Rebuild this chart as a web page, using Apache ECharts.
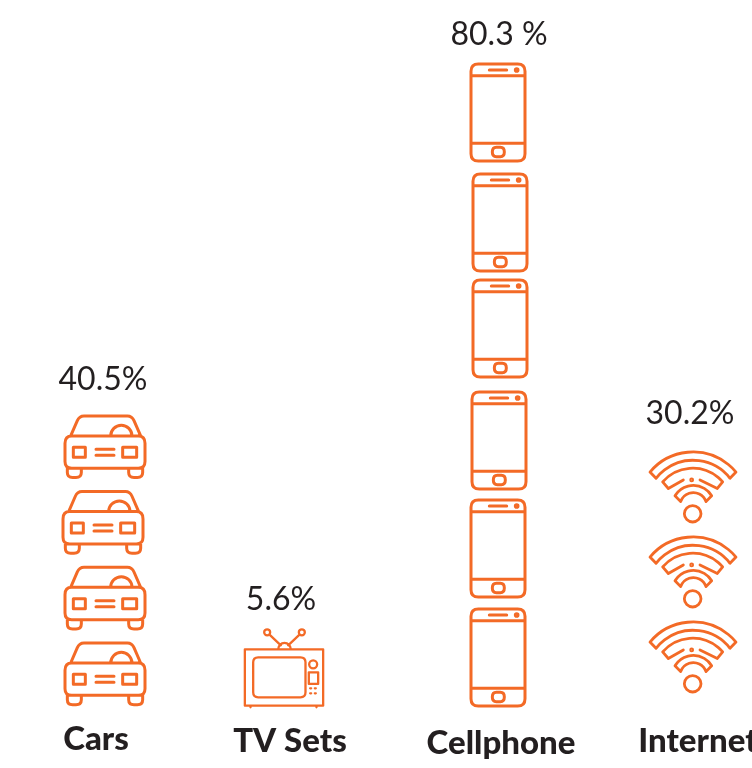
<!DOCTYPE html>
<html>
<head>
<meta charset="utf-8">
<style>
  html, body { margin: 0; padding: 0; background: #fff; overflow: hidden; }
  #chart { width: 752px; height: 768px; }
</style>
<script src="https://cdn.jsdelivr.net/npm/echarts@6/dist/echarts.min.js"></script>
</head>
<body>
<div id="chart"></div>
<script>
const categories = ["Cars", "TV Sets", "Cellphone", "Internet"];
const shares = [40.5, 5.6, 80.3, 30.2];
const shareLabels = ["40.5%", "5.6%", "80.3 %", "30.2%"];
const iconCounts = [4, 1, 6, 3];

const orange = "#f36a26";
const ink = "#231f20";

const carIcon = "M65 108H265Q285 108 285 130V185Q285 205 265 205H65Q45 205 45 185V130Q45 108 65 108Z" +
  "M62 108L82 62Q88 48 102 48H232Q246 48 252 62L272 108" +
  "M182 108A32 32 0 0 1 246 108" +
  "M70 142H106V172H70ZM218 142H260V172H218Z" +
  "M138 148H192M138 166H192" +
  "M52 205V218Q52 233 68 233H78Q94 233 94 218V205" +
  "M236 205V218Q236 233 252 233H262Q278 233 278 218V205";

const tvIcon = "M30 88H265V257H30Z" +
  "M47 257V262M245 257V262" +
  "M70 112H197Q212 112 212 127V217Q212 232 197 232H70Q55 232 55 217V127Q55 112 70 112Z" +
  "M247 133A12 12 0 1 1 223 133A12 12 0 1 1 247 133Z" +
  "M222 157H250V192H222Z" +
  "M226 205H229M240 205H243M226 220H229M240 220H243" +
  "M106 37A9 9 0 1 1 88 37A9 9 0 1 1 106 37Z" +
  "M210 37A9 9 0 1 1 192 37A9 9 0 1 1 210 37Z" +
  "M104 44L138 76M194 44L160 76" +
  "M130 88A19 19 0 0 1 168 88";

const phoneIcon = "M55 27H173Q195 27 195 49V296Q195 318 173 318H55Q33 318 33 296V49Q33 27 55 27Z" +
  "M33 62H195M33 265H195" +
  "M88 45H140" +
  "M174 45A4 4 0 1 1 166 45A4 4 0 1 1 174 45Z" +
  "M109 277H121Q133 277 133 291Q133 305 121 305H109Q97 305 97 291Q97 277 109 277Z";

const wifiIcon = "M30 78A167 167 0 0 1 288 78L270 97A140 140 0 0 0 48 97Z" +
  "M130 102L85 128L68 108A118 118 0 0 1 248 108L232 128L180 102" +
  "M105 150A64 64 0 0 1 215 150L198 168A40 40 0 0 0 122 168Z" +
  "M183 205A25 25 0 1 1 133 205A25 25 0 1 1 183 205Z" +
  "M158 102A3 3 0 1 1 152 102A3 3 0 1 1 158 102Z";

const icons = [carIcon, tvIcon, phoneIcon, wifiIcon];

// drawing of the icons, in px
const iconSizes = [[80, 61.7], [78.3, 78], [54, 97], [86, 70]];
const iconStroke = [3, 2.3, 3, 2.8];
const iconPitch = [75.7, 0, 109, 85];
const iconShift = [[0, -2.3], [-17, 0.3], [1, -1], [0, -15]];
// small hand placed wobble per icon, counted from the bottom of a stack
const iconNudge = [
  [[0, 0], [0, 0], [-2, 0], [0, 0]],
  [[0, 0]],
  [[0, 0], [0, 0], [1, 1], [2, -2], [2, 1], [0, 0]],
  [[0, 0], [0, 0], [0, 0]]
];
const labelShift = [[-2, -3], [-20, -63], [2, -29.5], [-3, -52]];

const renderStack = (params, api) => {
  const i = params.dataIndex;
  const base = api.coord([api.value(0), 0]);
  const top = api.coord([api.value(0), api.value(1)]);
  const size = iconSizes[i];
  const children = [];
  for (let n = 0; n < iconCounts[i]; n++) {
    const nudge = iconNudge[i][n];
    children.push({
      type: "path",
      shape: {
        pathData: icons[i],
        layout: "cover",
        x: base[0] + iconShift[i][0] + nudge[0] - size[0] / 2,
        y: base[1] + iconShift[i][1] + nudge[1] - size[1] - n * iconPitch[i],
        width: size[0],
        height: size[1]
      },
      style: { fill: "none", stroke: orange, lineWidth: iconStroke[i], lineJoin: "round", lineCap: "round" }
    });
  }
  children.push({
    type: "text",
    x: top[0] + labelShift[i][0],
    y: top[1] + labelShift[i][1],
    style: {
      text: shareLabels[i],
      fontFamily: "Lato",
      fontSize: 32,
      fill: ink,
      align: "center",
      verticalAlign: "middle"
    }
  });
  return { type: "group", children: children };
};

const chart = echarts.init(document.getElementById("chart"), null, { renderer: "canvas" });

const catStyle = { fontFamily: "Lato", fontWeight: 900, fontSize: 33, color: ink };

chart.setOption({
  animation: false,
  backgroundColor: "#fff",
  grid: { left: 7, top: 0, width: 784, height: 707, outerBoundsMode: "none" },
  xAxis: {
    type: "category",
    data: categories,
    axisLine: { show: false },
    axisTick: { show: false },
    axisLabel: {
      interval: 0,
      margin: 15,
      hideOverlap: false,
      formatter: (v, i) => "{c" + i + "|" + v + "}",
      rich: {
        c0: Object.assign({ padding: [1, 18, 0, 0] }, catStyle),
        c1: Object.assign({ padding: [3, 22, 0, 0] }, catStyle),
        c2: Object.assign({ padding: [5, 0, 0, 8] }, catStyle),
        c3: Object.assign({ padding: [3, 0, 0, 10] }, catStyle)
      }
    }
  },
  yAxis: { type: "value", min: 0, max: 88.375, show: false },
  series: [
    {
      type: "custom",
      clip: false,
      renderItem: renderStack,
      encode: { x: 0, y: 1 },
      data: shares.map((v, i) => [i, v])
    }
  ]
});
</script>
</body>
</html>
